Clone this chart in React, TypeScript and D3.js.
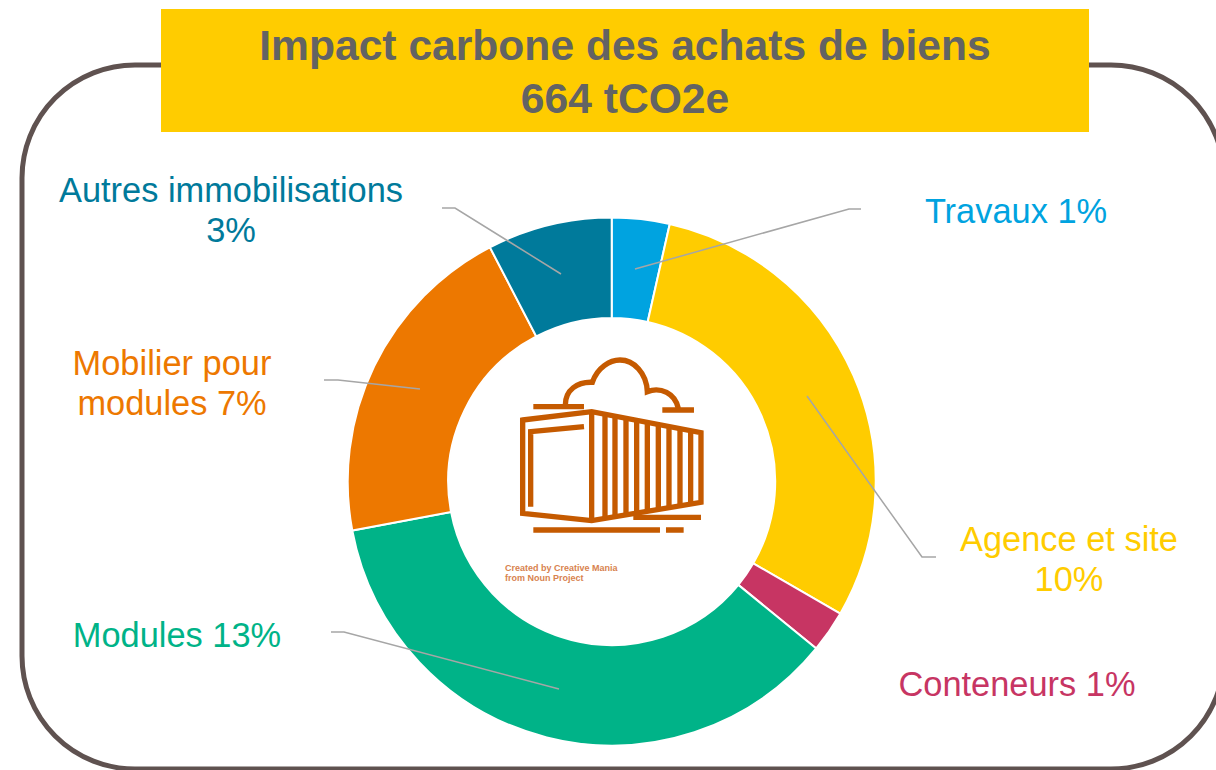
import React from "react";
import * as d3 from "d3";

const categories = ["Travaux", "Agence et site", "Conteneurs", "Modules", "Mobilier pour modules", "Autres immobilisations"];
const sliceValues = [1.23, 10.39, 0.89, 12.59, 7.09, 2.66];
const colors = ["#00A3E0", "#FFCC00", "#C73563", "#00B388", "#ED7800", "#007A9B"];
const labelLines = [
  ["Travaux 1%"],
  ["Agence et site", "10%"],
  ["Conteneurs 1%"],
  ["Modules 13%"],
  ["Mobilier pour", "modules 7%"],
  ["Autres immobilisations", "3%"],
];
const labelPos = [
  [1016, 223],
  [1069, 551],
  [1017, 696],
  [177, 647],
  [172, 375],
  [231, 202],
];
const leaders = [
  [[861, 209], [849, 209], [635, 269]],
  [[936, 557], [922, 557], [807, 396]],
  [],
  [[331, 632], [344, 632], [559, 689]],
  [[324, 380], [338, 380], [420, 389]],
  [[442, 208], [455, 208], [561, 274]],
];
const titleLines = ["Impact carbone des achats de biens", "664 tCO2e"];
const ribs = [345, 375, 408, 440, 472, 505, 537, 570, 602];

const width = 1216;
const height = 770;
const cx = 611.7;
const cy = 481.5;
const font = "'Liberation Sans', Arial, sans-serif";
const iconColor = "#C55A00";

const App = () => {
  const pie = d3.pie<number>().sort(null)(sliceValues);
  const arc = d3.arc<d3.PieArcDatum<number>>().innerRadius(163.5).outerRadius(264);
  const line = d3.line();

  // container top edge at x=305 -> 633, bottom edge follows the perspective
  const ribTop = d3.scaleLinear().domain([305, 633]).range([215, 278]);
  const ribBottom = d3.scaleLinear().domain([305, 633]).range([540, 487]);

  return (
    <svg
      width={width}
      height={height}
      style={{ position: "absolute", left: 0, top: 0, background: "#fff" }}
    >
      <rect x={22} y={65} width={1202} height={704} rx={113} ry={113} fill="none" stroke="#5F5250" strokeWidth={5} />

      <rect x={161} y={9} width={928} height={123} fill="#FFCC00" />
      {titleLines.map((t, i) => (
        <text key={t} x={625} y={60 + i * 53} textAnchor="middle" fontFamily={font} fontWeight="bold" fontSize={42.6} fill="#636363">
          {t}
        </text>
      ))}

      <g transform={`translate(${cx},${cy})`}>
        {pie.map((d, i) => (
          <path key={categories[i]} d={arc(d) as string} fill={colors[i]} stroke="#fff" strokeWidth={2} />
        ))}
      </g>

      {leaders.map((pts, i) =>
        pts.length ? (
          <path key={i} d={line(pts as [number, number][]) as string} fill="none" stroke="#A6A6A6" strokeWidth={1.5} />
        ) : null
      )}

      {labelLines.map((lines, i) => (
        <text key={i} textAnchor="middle" fontFamily={font} fontSize={34.4} fill={colors[i]}>
          {lines.map((l, j) => (
            <tspan key={j} x={labelPos[i][0]} y={labelPos[i][1] + j * 40}>
              {l}
            </tspan>
          ))}
        </text>
      ))}

      {/* container + cloud icon, coordinates at 3x */}
      <g transform="translate(490,340) scale(0.3333)" fill="none" stroke={iconColor} strokeWidth={16}>
        <path d="M98,240 L305,215 L633,278 L633,487 L305,542 L98,520 Z" />
        <path d="M305,215 L305,542" />
        <path d="M122,500 L122,275 L282,260" />
        {ribs.map((x) => (
          <path key={x} d={line([[x, ribTop(x)], [x, ribBottom(x)]]) as string} />
        ))}
        <path d="M130,200 L282,200 M517,210 L612,210 M130,570 L510,570 M528,570 L581,570 M430,532 L633,532" />
        <path d="M226,195 C226,150 262,125 307,127 C322,82 360,60 390,60 C432,60 470,100 472,155 C512,140 555,160 565,205" />
      </g>
      <text fontFamily={font} fontSize={9} fontWeight="bold" fill="#D8824F">
        <tspan x={505} y={571}>Created by Creative Mania</tspan>
        <tspan x={505} y={580.5}>from Noun Project</tspan>
      </text>
    </svg>
  );
};

export default App;
